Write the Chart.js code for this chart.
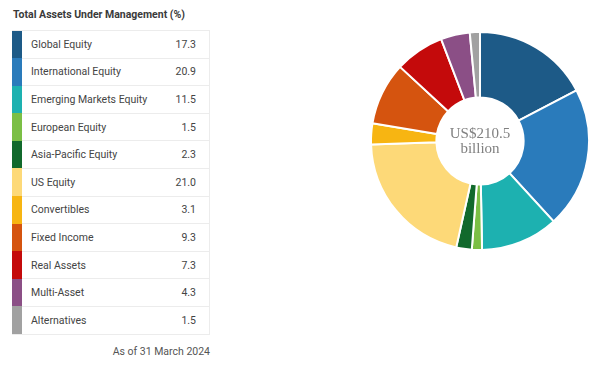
<!DOCTYPE html>
<html>
<head>
<meta charset="utf-8">
<script src="https://cdn.jsdelivr.net/npm/chart.js@4.4.1/dist/chart.umd.min.js"></script>
<style>
  html, body { margin: 0; padding: 0; background: #fff; }
  body { width: 600px; height: 367px; position: relative; overflow: hidden; font-family: Roboto, "Open Sans", sans-serif; }
  #title { position: absolute; left: 13px; top: 8px; font-size: 10.5px; font-weight: 700; color: #3a3a3a; }
  #tbl { position: absolute; left: 12px; top: 30px; width: 198px; border-collapse: collapse; border: 1px solid #ececec; border-left: none; }
  #tbl td { height: 27.6px; padding: 0; font-size: 10.5px; color: #444; border-bottom: 1px solid #ececec; box-sizing: border-box; }
  #tbl td.sw { width: 10px; border-bottom: none; }
  #tbl td.name { padding-left: 9px; }
  #tbl td.val { text-align: right; padding-right: 13px; }
  #asof { position: absolute; left: 0; width: 210px; top: 345px; text-align: right; font-size: 10.5px; color: #555; }
  #chartWrap { position: absolute; left: 370px; top: 31px; width: 220px; height: 220px; }
</style>
</head>
<body>
<div id="title">Total Assets Under Management (%)</div>
<table id="tbl"><tbody id="rows"></tbody></table>
<div id="asof">As of 31 March 2024</div>
<div id="chartWrap"><canvas id="donut"></canvas></div>
<script>
const categories = ["Global Equity", "International Equity", "Emerging Markets Equity", "European Equity",
  "Asia-Pacific Equity", "US Equity", "Convertibles", "Fixed Income", "Real Assets", "Multi-Asset", "Alternatives"];
const shares = [17.3, 20.9, 11.5, 1.5, 2.3, 21.0, 3.1, 9.3, 7.3, 4.3, 1.5];
const colors = ["#1d5a87", "#2a7bbb", "#1db1b0", "#7bbf45", "#11692c", "#fdd978",
  "#f7b512", "#d5540f", "#c40a0b", "#8b4f86", "#a1a1a1"];
const centerLines = ["US$210.5", "billion"];

// build the table on the left
const rows = document.querySelector("#rows");
categories.forEach((name, i) => {
    const tr = document.createElement("tr");
    tr.innerHTML = `<td class="sw" style="background:${colors[i]}"></td>` +
        `<td class="name">${name}</td><td class="val">${shares[i].toFixed(1)}</td>`;
    rows.appendChild(tr);
});

// text in the hole
const centerText = {
    id: "centerText",
    afterDraw(chart) {
        const ctx = chart.ctx;
        const meta = chart.getDatasetMeta(0).data[0];
        ctx.save();
        ctx.fillStyle = "#808080";
        ctx.font = "15px 'Liberation Serif', serif";
        ctx.textAlign = "center";
        ctx.textBaseline = "middle";
        ctx.fillText(centerLines[0], meta.x, meta.y - 7);
        ctx.fillText(centerLines[1], meta.x, meta.y + 8);
        ctx.restore();
    }
};

new Chart(document.querySelector("#donut"), {
    type: "doughnut",
    data: {
        labels: categories,
        datasets: [{
            data: shares,
            backgroundColor: colors,
            borderColor: "#ffffff",
            borderWidth: 2
        }]
    },
    options: {
        responsive: true,
        maintainAspectRatio: false,
        animation: false,
        cutout: "40%",
        layout: { padding: 0 },
        plugins: {
            legend: { display: false },
            tooltip: { enabled: false }
        }
    },
    plugins: [centerText]
});
</script>
</body>
</html>
